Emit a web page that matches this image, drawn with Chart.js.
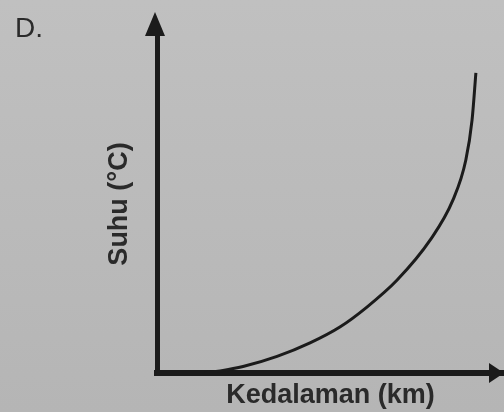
<!DOCTYPE html>
<html lang="id">
<head>
    <meta charset="UTF-8">
    <title>Grafik D - Suhu dan Kedalaman</title>
    <script src="https://cdn.jsdelivr.net/npm/chart.js"></script>
    <style>
        html, body { margin: 0; padding: 0; }
        body {
            width: 504px;
            height: 412px;
            background: linear-gradient(to bottom, #c0c0c0, #b5b5b5);
            overflow: hidden;
        }
        #wrap { position: relative; width: 504px; height: 412px; }
    </style>
</head>
<body>
    <div id="wrap">
        <canvas id="grafik" width="504" height="412"></canvas>
    </div>

    <script>
        // Kurva suhu terhadap kedalaman (satuan relatif)
        const kedalaman = [13.8, 18.2, 24.8, 34.6, 44.1, 52.7, 60.5, 69.2, 78.7, 85.3, 89.0, 90.8, 91.9];
        const suhu      = [0, 0.6, 1.9, 4.9, 8.9, 13.6, 19.5, 27.5, 39.3, 51.2, 63.0, 74.9, 88.8];

        const labelGrafik = 'D.';
        const judulX = 'Kedalaman (km)';
        const judulY = 'Suhu (°C)';

        const warnaGaris = '#1b1b1b';
        const warnaTeks = '#2a2a2a';

        // Panah di ujung sumbu + huruf "D."
        const panahSumbu = {
            id: 'panahSumbu',
            afterDraw(chart) {
                const { ctx, chartArea } = chart;
                const x0 = chart.scales.x.getPixelForValue(0);
                const y0 = chart.scales.y.getPixelForValue(0);
                ctx.save();
                ctx.fillStyle = warnaGaris;

                // panah sumbu Y
                ctx.beginPath();
                ctx.moveTo(x0 - 2, chartArea.top - 23);
                ctx.lineTo(x0 - 12, chartArea.top + 1);
                ctx.lineTo(x0 + 8, chartArea.top + 1);
                ctx.closePath();
                ctx.fill();

                // panah sumbu X
                ctx.beginPath();
                ctx.moveTo(chartArea.right, y0);
                ctx.lineTo(chartArea.right - 15, y0 - 10);
                ctx.lineTo(chartArea.right - 15, y0 + 10);
                ctx.closePath();
                ctx.fill();

                ctx.fillStyle = warnaTeks;
                ctx.font = '28px "Liberation Sans", Arial, sans-serif';
                ctx.textBaseline = 'alphabetic';
                ctx.fillText(labelGrafik, 15, 37);
                ctx.restore();
            }
        };

        const ctx = document.getElementById('grafik').getContext('2d');
        new Chart(ctx, {
            type: 'line',
            data: {
                datasets: [{
                    data: kedalaman.map((k, i) => ({ x: k, y: suhu[i] })),
                    borderColor: warnaGaris,
                    borderWidth: 3,
                    pointRadius: 0,
                    cubicInterpolationMode: 'monotone',
                    fill: false
                }]
            },
            options: {
                responsive: false,
                animation: false,
                layout: { padding: { top: 35, right: 0, bottom: 0, left: 0 } },
                plugins: {
                    legend: { display: false },
                    tooltip: { enabled: false }
                },
                scales: {
                    x: {
                        type: 'linear',
                        min: 0,
                        max: 100,
                        grid: { display: false },
                        ticks: { display: false },
                        border: { color: warnaGaris, width: 6 },
                        title: {
                            display: true,
                            text: judulX,
                            color: warnaTeks,
                            font: { family: '"Liberation Sans", Arial, sans-serif', size: 27, weight: 'bold', lineHeight: 1.2 },
                            padding: { top: 0, bottom: 0 }
                        },
                        afterFit(scale) { scale.height = 412 - 373; }
                    },
                    y: {
                        type: 'linear',
                        min: 0,
                        max: 100,
                        grid: { display: false },
                        ticks: { display: false },
                        border: { color: warnaGaris, width: 5 },
                        title: {
                            display: true,
                            text: judulY,
                            color: warnaTeks,
                            font: { family: '"Liberation Sans", Arial, sans-serif', size: 27, weight: 'bold', lineHeight: 1.2 },
                            padding: { top: 103, bottom: 0 }
                        },
                        afterFit(scale) { scale.width = 157; }
                    }
                }
            },
            plugins: [panahSumbu]
        });
    </script>
</body>
</html>
